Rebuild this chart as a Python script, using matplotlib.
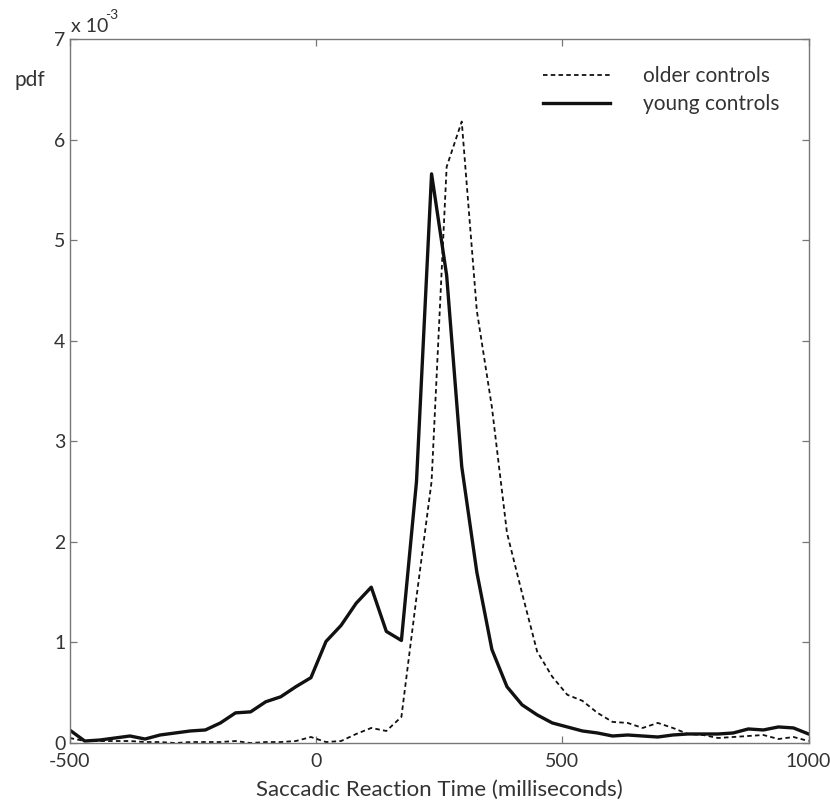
import numpy as np
import matplotlib
matplotlib.use("Agg")
import matplotlib.pyplot as plt

plt.rcParams['font.family'] = ['Lato', 'DejaVu Sans']
plt.rcParams['axes.unicode_minus'] = False

# reaction time grid (ms), 50 bins from -500 to 1000
rt = np.linspace(-500, 1000, 50)

# pdf values, in units of 1e-3
young = [0.13, 0.02, 0.03, 0.05, 0.07, 0.04, 0.08, 0.10, 0.12, 0.13,
         0.20, 0.30, 0.31, 0.41, 0.46, 0.56, 0.65, 1.01, 1.17, 1.39,
         1.55, 1.11, 1.02, 2.60, 5.66, 4.65, 2.75, 1.70, 0.93, 0.56,
         0.38, 0.28, 0.20, 0.16, 0.12, 0.10, 0.07, 0.08, 0.07, 0.06,
         0.08, 0.09, 0.09, 0.09, 0.10, 0.14, 0.13, 0.16, 0.15, 0.09]
older = [0.05, 0.02, 0.02, 0.02, 0.02, 0.01, 0.01, 0.00, 0.01, 0.01,
         0.01, 0.02, 0.00, 0.01, 0.01, 0.02, 0.06, 0.01, 0.02, 0.09,
         0.15, 0.12, 0.26, 1.45, 2.60, 5.73, 6.18, 4.30, 3.34, 2.09,
         1.49, 0.91, 0.66, 0.48, 0.42, 0.30, 0.21, 0.20, 0.15, 0.20,
         0.15, 0.09, 0.08, 0.05, 0.06, 0.07, 0.08, 0.04, 0.06, 0.02]

xticks = [-500, 0, 500, 1000]
yticks = [0, 1, 2, 3, 4, 5, 6, 7]

fig = plt.figure(figsize=(8.3, 8.11), dpi=100)
ax = fig.add_axes([0.0839, 0.0838, 0.8903, 0.868])

ax.plot(rt, older, color='#111111', lw=1.3, linestyle=(0, (2.5, 1.8)),
        label='older controls')
ax.plot(rt, young, color='#111111', lw=2.4, label='young controls')

ax.set_xlim(-500, 1000)
ax.set_ylim(0, 7)
ax.set_xticks(xticks)
ax.set_xticklabels([str(t) for t in xticks])
ax.set_yticks(yticks)
ax.set_yticklabels([str(t) for t in yticks])
ax.tick_params(direction='in', length=5, width=0.9, colors='#777777',
               labelcolor='#333333', labelsize=14, top=True, right=True)
ax.tick_params(axis='x', pad=7)
ax.tick_params(axis='y', pad=3)
for s in ax.spines.values():
    s.set_color('#777777')
    s.set_linewidth(1.0)
# lift the y "0" a touch so it clears the "-500" below it
ax.get_yticklabels()[0].set_va('center_baseline')

ax.set_xlabel('Saccadic Reaction Time (milliseconds)', fontsize=16,
              color='#333333', labelpad=7)
fig.text(15 / 830, 1 - 80 / 811, 'pdf', fontsize=15, color='#333333',
         va='center', ha='left')
fig.text(71 / 830, 1 - 26 / 811, 'x 10', fontsize=14, color='#333333',
         va='center', ha='left')
fig.text(105 / 830, 1 - 15 / 811, '-3', fontsize=10, color='#333333',
         va='center', ha='left')

leg = ax.legend(loc='upper left', bbox_to_anchor=(543 / 830, 1 - 66 / 811),
                bbox_transform=fig.transFigure, frameon=False, fontsize=15,
                handlelength=3.2, handletextpad=1.6, labelspacing=0.4,
                borderpad=0, borderaxespad=0)
for t in leg.get_texts():
    t.set_color('#333333')

fig.savefig('out.png', dpi=100)
